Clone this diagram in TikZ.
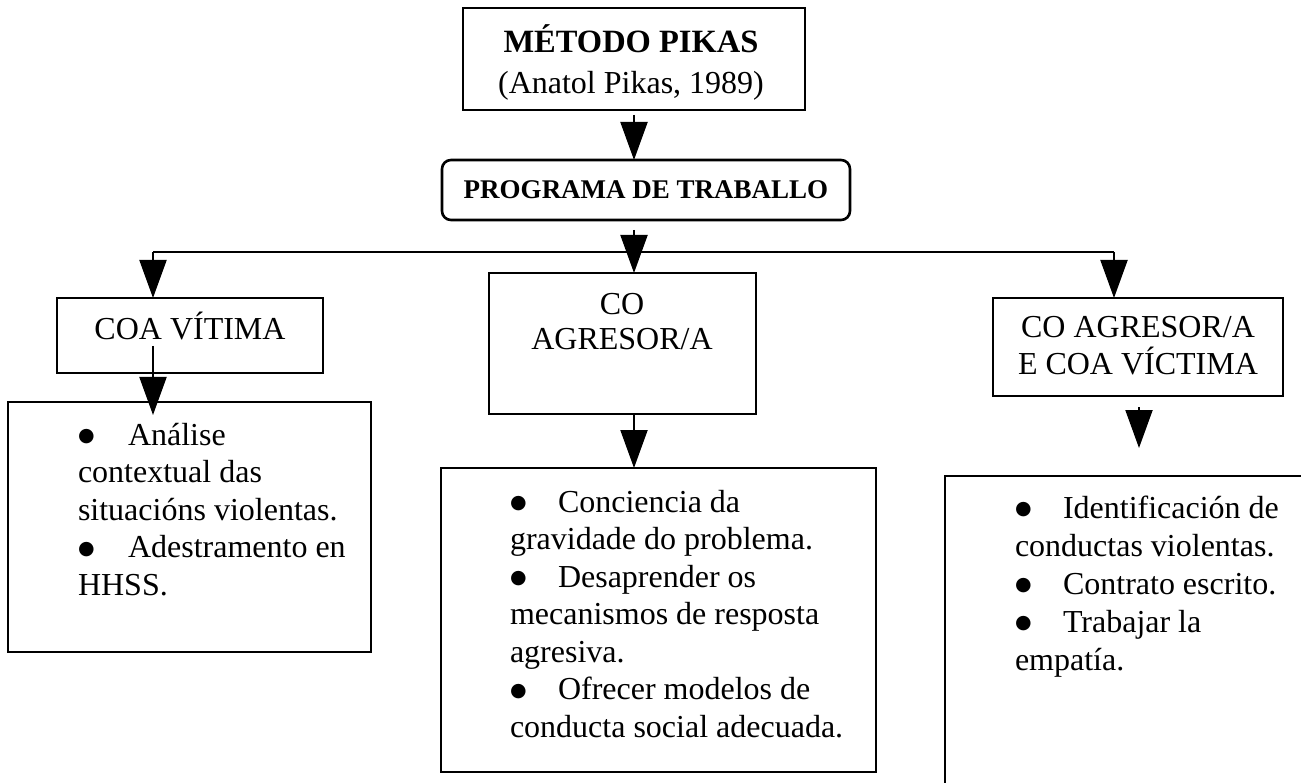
\documentclass[tikz,border=0pt]{standalone}
\usepackage{fontspec}
\setmainfont{Liberation Serif}
\newfontfamily\symfont{DejaVu Sans}
\usetikzlibrary{arrows.meta,calc}
\newcommand\myfont{\fontsize{32}{37.5}\selectfont}
\newcommand\bigbul{\raisebox{3.5pt}{\symfont\fontsize{19}{19}\selectfont ●}}
\newcommand\mybul{\makebox[48pt][l]{\bigbul}}
\newcommand\mybulw{\makebox[50pt][l]{\bigbul}}
\tikzset{
  box/.style={draw, line width=2.6pt, inner sep=0pt, outer sep=0pt, anchor=north west},
  conn/.style={line width=2pt},
  arr/.style={conn, -{Triangle[width=27pt,length=38pt]}},
  txt/.style={inner sep=0pt, outer sep=0pt, anchor=base},
  ltxt/.style={inner sep=0pt, outer sep=0pt, anchor=base west}
}
\begin{document}
\begin{tikzpicture}[x=1pt,y=-1pt]
\useasboundingbox (0,0) rectangle (1301,783);
\clip (0,0) rectangle (1301,783);
% boxes
\node[box, minimum width=342pt, minimum height=102pt] (metodo) at (463,8) {};
\node[box, rounded corners=9pt, minimum width=408pt, minimum height=60pt] (prog) at (442,160) {};
\node[box, minimum width=266pt, minimum height=75pt] (vit) at (57,298) {};
\node[box, minimum width=267pt, minimum height=141pt] (agr) at (489,273) {};
\node[box, minimum width=290pt, minimum height=98pt] (ambos) at (993,298) {};
\node[box, minimum width=363pt, minimum height=250pt] (vitl) at (8,402) {};
\node[box, minimum width=435pt, minimum height=304pt] (agrl) at (441,468) {};
\node[box, minimum width=420pt, minimum height=420pt] (ambosl) at (945,476) {};
% texts
\node[txt] (tmetodo) at (631,53) {\parbox[t]{340pt}{\centering\fontsize{32.5}{37.5}\selectfont\textbf{MÉTODO PIKAS}\\[3.5pt]\fontsize{32}{37.5}\selectfont(Anatol Pikas, 1989)}};
\node[txt] (tprog) at (646,199) {\fontsize{27}{32}\selectfont\textbf{PROGRAMA DE TRABALLO}};
\node[txt] (tvit) at (190,340) {\myfont COA VÍTIMA};
\node[txt] (tagr) at (622,315) {\parbox[t]{260pt}{\centering\fontsize{32}{35}\selectfont CO\\AGRESOR/A}};
\node[txt] (tambos) at (1138,338) {\parbox[t]{285pt}{\centering\fontsize{32}{36}\selectfont CO AGRESOR/A\\E COA VÍCTIMA}};
\node[ltxt] (tvitl) at (78,445) {\parbox[t]{290pt}{\raggedright\myfont
  \mybulw Análise\\contextual das\\situacións violentas.\\\mybulw Adestramento en\\HHSS.}};
\node[ltxt] (tagrl) at (510,512) {\parbox[t]{360pt}{\raggedright\myfont
  \mybul Conciencia da\\gravidade do problema.\\\mybul Desaprender os\\mecanismos de resposta\\agresiva.\\\mybul Ofrecer modelos de\\conducta social adecuada.}};
\node[ltxt] (tambosl) at (1015,518) {\parbox[t]{285pt}{\raggedright\fontsize{32}{38}\selectfont
  \mybul Identificación de\\conductas violentas.\\\mybul Contrato escrito.\\\mybul Trabajar la\\empatía.}};
% connectors
\coordinate (jl) at (153,252);
\coordinate (jr) at (1114,252);
\draw[arr] ($(metodo.south)+(0,5)$) -- (metodo.south |- prog.north);
\draw[conn] (jl) -- (jr);
\draw[arr] ($(metodo.south |- prog.south)+(0,10)$) -- (metodo.south |- agr.north);
\draw[arr] (jl) -- (jl |- vit.north);
\draw[arr] (jr) -- (jr |- ambos.north);
\draw[arr] ($(jl |- vit.south)+(0,-27)$) -- ($(jl |- vitl.north)+(0,13)$);
\draw[arr] (metodo.south |- agr.south) -- (metodo.south |- agrl.north);
\draw[arr] ($(ambos.south)+(1,11)$) -- ($(ambos.south)+(1,52)$);
\end{tikzpicture}
\end{document}
